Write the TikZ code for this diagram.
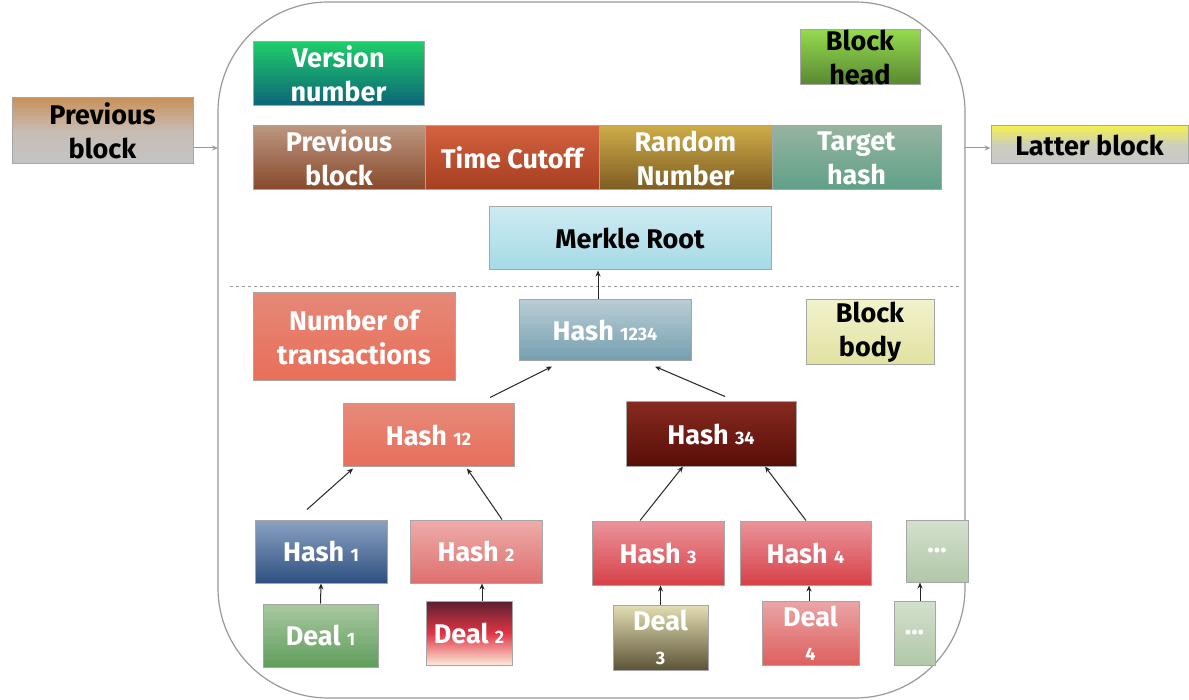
\documentclass[tikz,border=0pt]{standalone}
\usepackage{fontspec}
\setmainfont{Fira Sans}
\usetikzlibrary{arrows.meta}
\newcommand\lbl{\fontsize{27}{34}\selectfont\bfseries}
\newcommand\sbs[1]{{\fontsize{18}{18}\selectfont #1}}
\tikzset{
 box/.style={draw=black!35, line width=1pt, inner sep=0pt, align=center, font=\lbl, text=white},
 dark/.style={text=black},
 arr/.style={-{Stealth[length=6pt,width=5pt]}, line width=1pt, black!85},
 garr/.style={-{Stealth[length=6pt,width=5pt]}, line width=1pt, black!40},
}
\begin{document}
\begin{tikzpicture}[x=1pt,y=1pt]
\fill[white] (0,0) rectangle (1189,-700);
\useasboundingbox (0,0) rectangle (1189,-700);
% container
\draw[black!40, line width=1.2pt, rounded corners=110pt] (218,-2) rectangle (965,-698);
\coordinate (cl) at (218,-148);
\coordinate (cr) at (965,-148);
% dashed separator
\coordinate (ds) at (230,-287);
\coordinate (de) at (960,-287);
\draw[black!40, dashed, line width=1pt] (ds) -- (de);

% outside blocks
\node[box, dark, minimum width=181, minimum height=66, top color={rgb,255:red,200;green,145;blue,90}, bottom color={rgb,255:red,196;green,196;blue,196}, middle color={rgb,255:red,200;green,188;blue,180}] (prevL) at (102.5,-131) {Previous\\block};
\node[box, dark, minimum width=197, minimum height=38, top color={rgb,255:red,242;green,240;blue,80}, bottom color={rgb,255:red,200;green,200;blue,200}, middle color={rgb,255:red,205;green,205;blue,190}] (latter) at (1089.5,-145) {Latter block};
\draw[garr] (prevL.east |- cl) -- (cl);
\draw[garr] (cr) -- (latter.west |- cr);

% head
\node[box, minimum width=171, minimum height=64, top color={rgb,255:red,30;green,205;blue,105}, bottom color={rgb,255:red,12;green,100;blue,120}] (ver) at (338.5,-74) {Version\\number};
\node[box, dark, minimum width=120, minimum height=55, top color={rgb,255:red,148;green,218;blue,80}, bottom color={rgb,255:red,88;green,135;blue,48}] (head) at (860,-57.5) {Block\\head};
\node[box, minimum width=172, minimum height=64, top color={rgb,255:red,188;green,150;blue,128}, bottom color={rgb,255:red,135;green,72;blue,42}] (hprev) at (339,-158) {Previous\\block};
\node[box, minimum width=174, minimum height=64, top color={rgb,255:red,212;green,98;blue,64}, bottom color={rgb,255:red,165;green,62;blue,32}] (htime) at (512,-158) {Time Cutoff};
\node[box, minimum width=173, minimum height=64, top color={rgb,255:red,205;green,172;blue,72}, bottom color={rgb,255:red,125;green,92;blue,35}] (hrand) at (685.5,-158) {Random\\Number};
\node[box, minimum width=169, minimum height=64, top color={rgb,255:red,150;green,180;blue,160}, bottom color={rgb,255:red,95;green,160;blue,135}] (htarget) at (856.5,-158) {Target\\hash};
\node[box, dark, minimum width=282, minimum height=63, top color={rgb,255:red,205;green,235;blue,242}, bottom color={rgb,255:red,165;green,218;blue,230}] (merkle) at (630,-238.5) {Merkle Root};

% body
\node[box, minimum width=202, minimum height=88, top color={rgb,255:red,230;green,136;blue,120}, bottom color={rgb,255:red,232;green,110;blue,88}] (ntx) at (354,-337) {Number of\\transactions};
\node[box, minimum width=172, minimum height=61, top color={rgb,255:red,185;green,205;blue,212}, bottom color={rgb,255:red,115;green,158;blue,175}] (h1234) at (605,-330.5) {Hash \sbs{1234}};
\node[box, dark, minimum width=128, minimum height=65, top color={rgb,255:red,242;green,242;blue,205}, bottom color={rgb,255:red,225;green,225;blue,160}] (body) at (870,-332.5) {Block\\body};
\node[box, minimum width=171, minimum height=62, top color={rgb,255:red,230;green,138;blue,122}, bottom color={rgb,255:red,232;green,110;blue,90}] (h12) at (428.5,-435) {Hash \sbs{12}};
\node[box, minimum width=170, minimum height=64, top color={rgb,255:red,135;green,42;blue,32}, bottom color={rgb,255:red,88;green,14;blue,8}] (h34) at (711,-434) {Hash \sbs{34}};
\node[box, minimum width=132, minimum height=63, top color={rgb,255:red,140;green,162;blue,195}, bottom color={rgb,255:red,45;green,80;blue,128}] (h1) at (321,-551.5) {Hash \sbs{1}};
\node[box, minimum width=132, minimum height=63, top color={rgb,255:red,238;green,172;blue,170}, bottom color={rgb,255:red,222;green,112;blue,110}] (h2) at (476,-551.5) {Hash \sbs{2}};
\node[box, minimum width=132, minimum height=64, top color={rgb,255:red,235;green,148;blue,155}, bottom color={rgb,255:red,215;green,65;blue,72}] (h3) at (658,-553) {Hash \sbs{3}};
\node[box, minimum width=131, minimum height=64, top color={rgb,255:red,235;green,148;blue,155}, bottom color={rgb,255:red,215;green,65;blue,72}] (h4) at (805.5,-553) {Hash \sbs{4}};
\node[box, minimum width=62, minimum height=62, top color={rgb,255:red,212;green,224;blue,205}, bottom color={rgb,255:red,176;green,200;blue,168}] (hdots) at (937,-551) {...};
\node[box, minimum width=115, minimum height=63, top color={rgb,255:red,168;green,200;blue,160}, bottom color={rgb,255:red,96;green,158;blue,92}] (d1) at (320.5,-635.5) {Deal \sbs{1}};
\node[box, minimum width=86, minimum height=64, top color={rgb,255:red,90;green,32;blue,48}, bottom color={rgb,255:red,251;green,234;blue,218}, middle color={rgb,255:red,225;green,52;blue,68}] (d2) at (469,-633) {Deal \sbs{2}};
\node[box, minimum width=95, minimum height=65, top color={rgb,255:red,228;green,222;blue,180}, bottom color={rgb,255:red,92;green,84;blue,55}] (d3) at (660.5,-637.5) {Deal\\\sbs{3}};
\node[box, minimum width=97, minimum height=64, top color={rgb,255:red,235;green,165;blue,165}, bottom color={rgb,255:red,222;green,95;blue,95}] (d4) at (810.5,-633) {Deal\\\sbs{4}};
\node[box, minimum width=41, minimum height=64, top color={rgb,255:red,212;green,224;blue,205}, bottom color={rgb,255:red,176;green,200;blue,168}] (ddots) at (914.5,-633) {...};

% connectors
\draw[arr] ([xshift=-7]h1234.north) -- ([xshift=-32]merkle.south);
\draw[arr] ([xshift=61.5,yshift=6]h12.north) -- ([xshift=-53,yshift=-5]h1234.south);
\draw[arr] ([xshift=14,yshift=5]h34.north) -- ([xshift=50,yshift=-5]h1234.south);
\draw[arr] ([xshift=-14,yshift=10]h1.north) -- ([xshift=-75.5,yshift=-2]h12.south);
\draw[arr] ([xshift=26]h2.north) -- ([xshift=38.5,yshift=-2]h12.south);
\draw[arr] ([xshift=-18]h3.north) -- ([xshift=-28]h34.south);
\draw[arr] ([xshift=0.5]h4.north) -- ([xshift=54]h34.south);
\draw[arr] (d1.north) -- (h1.south);
\draw[arr] ([xshift=13]d2.north) -- ([xshift=6]h2.south);
\draw[arr] (d3.north) -- ([xshift=2.5]h3.south);
\draw[arr] ([xshift=-1.5]d4.north) -- ([xshift=3.5]h4.south);
\draw[arr] ([xshift=5.5]ddots.north) -- ([xshift=-17]hdots.south);
\end{tikzpicture}
\end{document}
